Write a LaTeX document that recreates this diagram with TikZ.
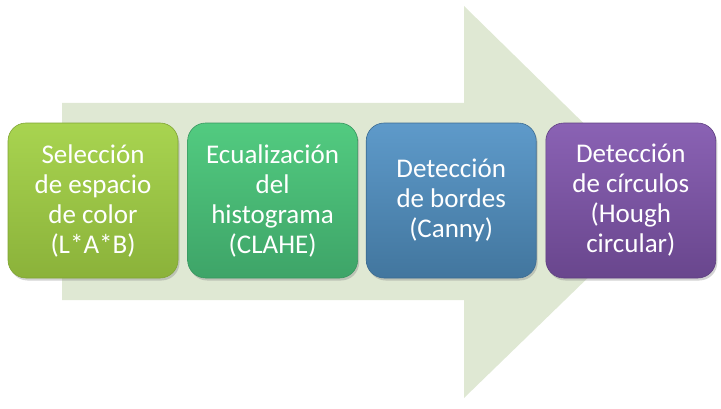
\documentclass[tikz,border=0pt]{standalone}
\usepackage{fontspec}
\setmainfont{Carlito}
\usetikzlibrary{positioning,shadows}
\definecolor{flecha}{HTML}{DFE8D3}
\tikzset{
  paso/.style={rounded corners=18pt, minimum width=170pt, minimum height=155pt,
    align=center, text=white, line width=0.6pt,
    font=\fontsize{27}{30}\selectfont,
    drop shadow={opacity=0.35, shadow xshift=1.5pt, shadow yshift=-2.5pt}},
}
\begin{document}
\begin{tikzpicture}[x=1pt, y=1pt]
  \useasboundingbox (0,0) rectangle (721,408);
  % flecha de fondo
  \fill[flecha] (62,108)--(464,108)--(464,10)--(665,205)--(464,402)--(464,305)--(62,305)--cycle;
  % pasos
  \node[paso, top color={rgb,255:red,168;green,212;blue,80}, bottom color={rgb,255:red,139;green,178;blue,58},
    draw={rgb,255:red,128;green,165;blue,52}] (b1) at (93,207.5)
    {Selección\\de espacio\\de color\\(L*A*B)};
  \node[paso, top color={rgb,255:red,82;green,203;blue,128}, bottom color={rgb,255:red,62;green,164;blue,104},
    draw={rgb,255:red,56;green,150;blue,95}, right=9pt of b1] (b2)
    {Ecualización\\del\\histograma\\(CLAHE)};
  \node[paso, top color={rgb,255:red,94;green,154;blue,202}, bottom color={rgb,255:red,66;green,118;blue,158},
    draw={rgb,255:red,60;green,108;blue,146}, right=8pt of b2] (b3)
    {Detección\\de bordes\\(Canny)};
  \node[paso, top color={rgb,255:red,138;green,98;blue,180}, bottom color={rgb,255:red,105;green,70;blue,141},
    draw={rgb,255:red,96;green,64;blue,130}, right=9pt of b3] (b4)
    {Detección\\de círculos\\(Hough\\circular)};
\end{tikzpicture}
\end{document}
